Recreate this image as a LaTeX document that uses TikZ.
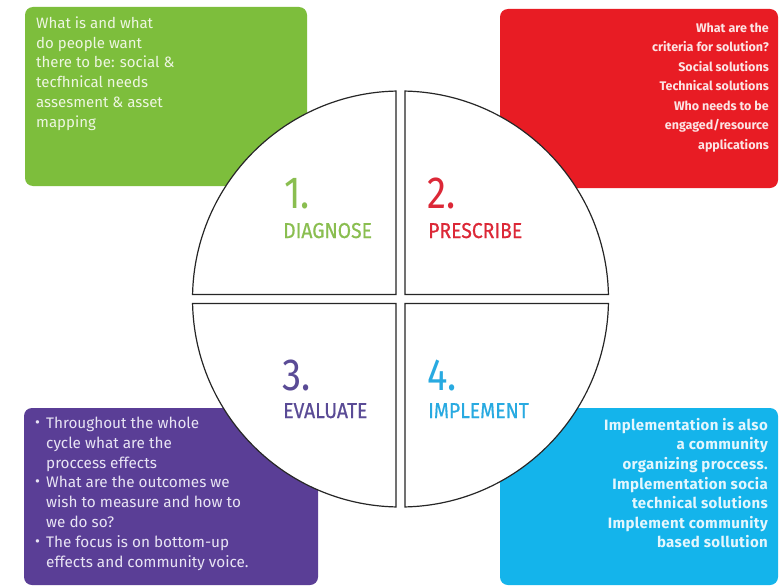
\documentclass[tikz,border=0pt]{standalone}
\usepackage{fontspec}
\setmainfont{Fira Sans}
\newfontfamily\labelfont[FakeStretch=0.9, FakeBold=0.6]{Fira Sans}
\newfontfamily\numfont[FakeStretch=0.85]{Fira Sans}
\newfontfamily\boxfont{Fira Sans}
\newfontfamily\widefont[LetterSpace=2.5]{Fira Sans}
\definecolor{cgreen}{HTML}{7DBE3C}
\definecolor{cred}{HTML}{E81C24}
\definecolor{cpurple}{HTML}{5A3E96}
\definecolor{ccyan}{HTML}{14B4EB}
\definecolor{lgreen}{HTML}{8ABE50}
\definecolor{lred}{HTML}{DC2837}
\definecolor{lpurple}{HTML}{5A4B96}
\definecolor{lcyan}{HTML}{28AAE1}
\definecolor{gtxt}{HTML}{EEF6E2}
\definecolor{rtxt}{HTML}{FCE4E4}
\definecolor{ptxt}{HTML}{E8E4F4}
\definecolor{ctxt}{HTML}{E4F6FD}
\newcommand{\blt}{\makebox[11pt][l]{\raisebox{1pt}{\fontsize{15}{15}\selectfont •}}}
\begin{document}
\begin{tikzpicture}[x=1pt,y=-1pt,
  quad/.style={draw=black!85, line width=1.2pt, fill=white},
  panel/.style={rounded corners=8pt},
  num/.style={font=\numfont\fontsize{45}{45}\selectfont, anchor=base west, inner sep=0pt},
  lab/.style={font=\labelfont\fontsize{21.5}{20}\selectfont, anchor=base west, inner sep=0pt},
  btext/.style={inner sep=0pt, font=\boxfont\fontsize{15}{19.8}\selectfont},
  bbtext/.style={inner sep=0pt, font=\boxfont\bfseries\fontsize{12.5}{19.5}\selectfont}
]
\useasboundingbox (0,0) rectangle (779,586);
\fill[white] (0,0) rectangle (779,586);
% coloured panels
\fill[cgreen, panel] (25,7) rectangle (307,186);
\fill[cred, panel] (500,9) rectangle (778,188);
\fill[cpurple, panel] (24,408) rectangle (318,585);
\fill[ccyan, panel] (500,408) rectangle (778,585);
% quadrants of the circle, centre (400.5,299), radius 208
\draw[quad] (396,294.5) -- (396,91.05) arc[start angle=268.76, end angle=181.24, radius=208] -- cycle;
\draw[quad] (405,294.5) -- (405,91.05) arc[start angle=-88.76, end angle=-1.24, radius=208] -- cycle;
\draw[quad] (396,303.5) -- (396,506.95) arc[start angle=91.24, end angle=178.76, radius=208] -- cycle;
\draw[quad] (405,303.5) -- (405,506.95) arc[start angle=88.76, end angle=1.24, radius=208] -- cycle;
% labels
\node[num, text=lgreen] (n1) at (284,208) {1.};
\node[lab, text=lgreen] (l1) at (283,238) {DIAGNOSE};
\node[num, text=lred] (n2) at (427,208) {2.};
\node[lab, text=lred] (l2) at (428,238) {PRESCRIBE};
\node[num, text=lpurple] (n3) at (282,390) {3.};
\node[lab, text=lpurple] (l3) at (283,418) {EVALUATE};
\node[num, text=lcyan] (n4) at (427,390) {4.};
\node[lab, text=lcyan] (l4) at (428,418) {IMPLEMENT};
% panel texts
\node[btext, text=gtxt, anchor=north west, align=left] (gt) at (36,14.14)
  {\strut What is and what\\do people want\\there to be: social \&\\tecfhnical needs\\assesment \& asset\\mapping};
\node[bbtext, text=rtxt, anchor=north east, align=right] (rt) at (769,18.35)
  {\strut What are the\\criteria for solution?\\Social solutions\\Technical solutions\\Who needs to be\\engaged/resource\\applications};
\node[btext, text=ptxt, anchor=north west, align=left, font=\boxfont\fontsize{15.3}{19.9}\selectfont] (pt) at (35,414.1)
  {\strut\blt Throughout the whole\\
   \hspace*{11pt}cycle what are the\\
   \hspace*{11pt}proccess effects\\
   \blt What are the outcomes we\\
   \hspace*{11pt}wish to measure and how to\\
   \hspace*{11pt}we do so?\\
   \blt The focus is on bottom-up\\
   \hspace*{11pt}effects and community voice.};
\node[bbtext, text=ctxt, anchor=north east, align=right, font=\widefont\bfseries\fontsize{15}{19.6}\selectfont] (ct) at (768,416.3)
  {\strut Implementation is also\\a community\\organizing proccess.\\Implementation socia\\technical solutions\\Implement community\\based sollution};
\end{tikzpicture}
\end{document}
